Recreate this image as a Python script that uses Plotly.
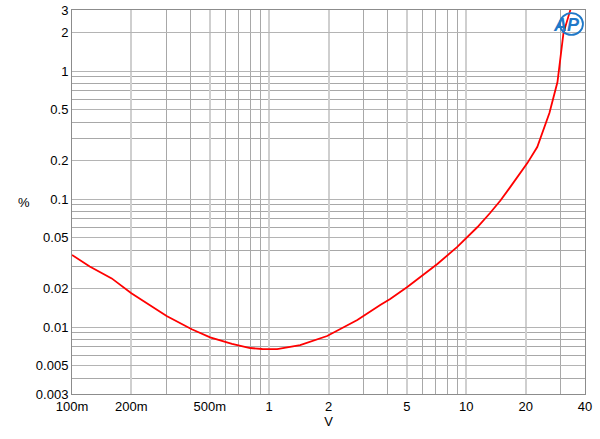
import plotly.graph_objects as go

volts = [0.1, 0.123, 0.159, 0.2, 0.302, 0.353, 0.405, 0.502, 0.564, 0.648, 0.801, 0.922,
         1.098, 1.436, 1.968, 2.80, 3.66, 4.11, 5.02, 6.05, 7.13, 9.0, 10.0, 11.4,
         13.2, 14.9, 16.7, 20.4, 22.9, 26.4, 29.0, 31.1, 33.7, 34.5]
thd_pct = [0.0366, 0.0297, 0.0240, 0.0184, 0.0122, 0.0108, 0.00961, 0.00832, 0.00792,
           0.00738, 0.00686, 0.00674, 0.00672, 0.00724, 0.00851, 0.01135, 0.01485,
           0.0166, 0.0206, 0.0255, 0.0311, 0.0423, 0.0497, 0.0605, 0.0778, 0.0975,
           0.124, 0.191, 0.255, 0.47, 0.821, 1.98, 3.0, 3.6]

x_tickvals = [0.1, 0.2, 0.5, 1, 2, 5, 10, 20, 40]
x_ticktext = ["100m", "200m", "500m", "1", "2", "5", "10", "20", "40"]
x_minor = [0.3, 0.4, 0.6, 0.7, 0.8, 0.9, 3, 4, 6, 7, 8, 9, 30]
y_tickvals = [0.003, 0.005, 0.01, 0.02, 0.05, 0.1, 0.2, 0.5, 1, 2, 3]
y_ticktext = ["0.003", "0.005", "0.01", "0.02", "0.05", "0.1", "0.2", "0.5", "1", "2", "3"]
y_minor = [0.004, 0.006, 0.007, 0.008, 0.009, 0.03, 0.04, 0.06, 0.07, 0.08, 0.09,
           0.3, 0.4, 0.6, 0.7, 0.8, 0.9]

fig = go.Figure()
fig.add_trace(go.Scatter(x=volts, y=thd_pct, mode="lines",
                         line=dict(color="#ff0000", width=1.8),
                         showlegend=False))

font = dict(family="Liberation Sans, Arial, sans-serif", size=13, color="#000")

fig.update_layout(
    width=600, height=439,
    margin=dict(l=72, r=15, t=10, b=45),
    paper_bgcolor="white", plot_bgcolor="white",
    font=font,
    xaxis=dict(type="log", range=[-1, 1.60206], automargin=False,
               tickvals=x_tickvals, ticktext=x_ticktext, ticks="",
               showgrid=True, gridcolor="#cfcfcf", gridwidth=1.6,
               showline=True, linecolor="#8c8c8c", linewidth=1, mirror=True,
               minor=dict(tickvals=x_minor, showgrid=True, gridcolor="#a8a8a8",
                          gridwidth=0.8, ticks=""),
               title=dict(text="V", font=font, standoff=4),
               zeroline=False),
    yaxis=dict(type="log", range=[-2.52288, 0.47712], automargin=False,
               tickvals=y_tickvals, ticktext=y_ticktext, ticks="",
               showgrid=True, gridcolor="#b4b4b4", gridwidth=1,
               showline=True, linecolor="#8c8c8c", linewidth=1, mirror=True,
               minor=dict(tickvals=y_minor, showgrid=True, gridcolor="#a8a8a8",
                          gridwidth=0.8, ticks=""),
               zeroline=False),
)

fig.add_annotation(text="%", xref="paper", yref="paper", x=-0.11, y=0.5,
                   showarrow=False, font=font)
fig.add_shape(type="circle", xref="paper", yref="paper",
              x0=0.951, x1=0.996, y0=0.935, y1=0.992,
              line=dict(color="#1f78c8", width=1.8))
fig.add_annotation(text="<b><i>AP</i></b>", xref="paper", yref="paper",
                   x=0.963, y=0.962, xanchor="center", yanchor="middle",
                   showarrow=False,
                   font=dict(family="Liberation Sans, Arial, sans-serif", size=18,
                             color="#1f78c8"))

fig.write_html("out.html", config={"displayModeBar": False},
               post_script="document.body.style.margin='0';")
